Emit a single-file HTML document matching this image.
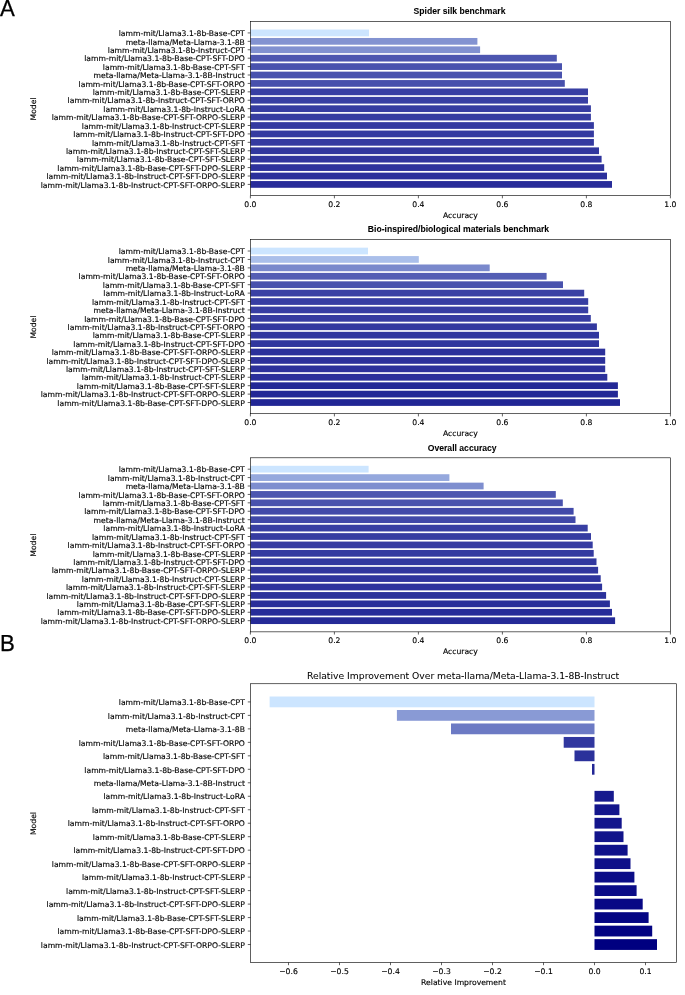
<!DOCTYPE html>
<html lang="en"><head><meta charset="utf-8"><title>Benchmark figure</title>
<style>
html,body{margin:0;padding:0;background:#fff;}
svg{display:block;font-family:"DejaVu Sans","Liberation Sans",sans-serif;font-size:7.66px;fill:#000;}
text{stroke:#000;stroke-width:0.14px;}
.ttl{stroke-width:0.06px;}
.ttl{font-family:"Liberation Sans",Arial,Helvetica,sans-serif;font-weight:bold;font-size:8.62px;}
.ttlB{font-size:9.23px;stroke-width:0.05px;}
.pl{font-family:"Liberation Sans",Arial,Helvetica,sans-serif;font-size:23.2px;stroke:#000;stroke-width:0.3px;text-rendering:geometricPrecision;}
.bars rect{shape-rendering:auto;}
</style></head><body>
<svg width="685" height="995" viewBox="0 0 685 995">
<rect width="685" height="995" fill="#fff"/>
<g class="bars">
<rect x="250.4" y="29.56" width="118.60" height="6.73" fill="#cce5ff"/>
<rect x="250.4" y="37.98" width="227.00" height="6.73" fill="#8393d1"/>
<rect x="250.4" y="46.39" width="229.70" height="6.73" fill="#8191d0"/>
<rect x="250.4" y="54.81" width="306.40" height="6.73" fill="#4d56b0"/>
<rect x="250.4" y="63.23" width="311.60" height="6.73" fill="#4952ae"/>
<rect x="250.4" y="71.64" width="311.60" height="6.73" fill="#4952ae"/>
<rect x="250.4" y="80.06" width="314.40" height="6.73" fill="#4750ac"/>
<rect x="250.4" y="88.48" width="337.60" height="6.73" fill="#383fa3"/>
<rect x="250.4" y="96.89" width="337.60" height="6.73" fill="#383fa3"/>
<rect x="250.4" y="105.31" width="340.50" height="6.73" fill="#363ca1"/>
<rect x="250.4" y="113.72" width="340.50" height="6.73" fill="#363ca1"/>
<rect x="250.4" y="122.14" width="343.50" height="6.73" fill="#343aa0"/>
<rect x="250.4" y="130.56" width="343.50" height="6.73" fill="#343aa0"/>
<rect x="250.4" y="138.97" width="343.50" height="6.73" fill="#343aa0"/>
<rect x="250.4" y="147.39" width="348.60" height="6.73" fill="#30369e"/>
<rect x="250.4" y="155.81" width="351.20" height="6.73" fill="#2f349d"/>
<rect x="250.4" y="164.22" width="353.80" height="6.73" fill="#2d329c"/>
<rect x="250.4" y="172.64" width="356.60" height="6.73" fill="#2b309b"/>
<rect x="250.4" y="181.06" width="361.60" height="6.73" fill="#282c99"/>
</g>
<path d="M247.70 32.93H250.4M247.70 41.34H250.4M247.70 49.76H250.4M247.70 58.18H250.4M247.70 66.59H250.4M247.70 75.01H250.4M247.70 83.43H250.4M247.70 91.84H250.4M247.70 100.26H250.4M247.70 108.67H250.4M247.70 117.09H250.4M247.70 125.51H250.4M247.70 133.92H250.4M247.70 142.34H250.4M247.70 150.76H250.4M247.70 159.17H250.4M247.70 167.59H250.4M247.70 176.01H250.4M247.70 184.42H250.4M250.40 195.60v2.7M334.40 195.60v2.7M418.40 195.60v2.7M502.40 195.60v2.7M586.40 195.60v2.7M670.40 195.60v2.7" stroke="#000" stroke-width="0.62" fill="none"/>
<rect x="250.4" y="21.55" width="420.0" height="174.05" fill="none" stroke="#000" stroke-width="0.62"/>
<g class="ylab" text-anchor="end">
<text x="244.80" y="36.13">lamm-mit/Llama3.1-8b-Base-CPT</text>
<text x="244.80" y="44.54">meta-llama/Meta-Llama-3.1-8B</text>
<text x="244.80" y="52.96">lamm-mit/Llama3.1-8b-Instruct-CPT</text>
<text x="244.80" y="61.38">lamm-mit/Llama3.1-8b-Base-CPT-SFT-DPO</text>
<text x="244.80" y="69.79">lamm-mit/Llama3.1-8b-Base-CPT-SFT</text>
<text x="244.80" y="78.21">meta-llama/Meta-Llama-3.1-8B-Instruct</text>
<text x="244.80" y="86.63">lamm-mit/Llama3.1-8b-Base-CPT-SFT-ORPO</text>
<text x="244.80" y="95.04">lamm-mit/Llama3.1-8b-Base-CPT-SLERP</text>
<text x="244.80" y="103.46">lamm-mit/Llama3.1-8b-Instruct-CPT-SFT-ORPO</text>
<text x="244.80" y="111.88">lamm-mit/Llama3.1-8b-Instruct-LoRA</text>
<text x="244.80" y="120.29">lamm-mit/Llama3.1-8b-Base-CPT-SFT-ORPO-SLERP</text>
<text x="244.80" y="128.71">lamm-mit/Llama3.1-8b-Instruct-CPT-SLERP</text>
<text x="244.80" y="137.12">lamm-mit/Llama3.1-8b-Instruct-CPT-SFT-DPO</text>
<text x="244.80" y="145.54">lamm-mit/Llama3.1-8b-Instruct-CPT-SFT</text>
<text x="244.80" y="153.96">lamm-mit/Llama3.1-8b-Instruct-CPT-SFT-SLERP</text>
<text x="244.80" y="162.37">lamm-mit/Llama3.1-8b-Base-CPT-SFT-SLERP</text>
<text x="244.80" y="170.79">lamm-mit/Llama3.1-8b-Base-CPT-SFT-DPO-SLERP</text>
<text x="244.80" y="179.21">lamm-mit/Llama3.1-8b-Instruct-CPT-SFT-DPO-SLERP</text>
<text x="244.80" y="187.62">lamm-mit/Llama3.1-8b-Instruct-CPT-SFT-ORPO-SLERP</text>
</g>
<g class="xlab" text-anchor="middle">
<text x="250.40" y="207.20">0.0</text>
<text x="334.40" y="207.20">0.2</text>
<text x="418.40" y="207.20">0.4</text>
<text x="502.40" y="207.20">0.6</text>
<text x="586.40" y="207.20">0.8</text>
<text x="670.40" y="207.20">1.0</text>
<text x="460.40" y="217.70">Accuracy</text>
</g>
<text class="ylbl" transform="translate(35.9 108.98) rotate(-90)" text-anchor="middle">Model</text>
<text class="ttl" x="459.50" y="13.85" text-anchor="middle">Spider silk benchmark</text>
<g class="bars">
<rect x="250.4" y="247.66" width="117.60" height="6.73" fill="#cce5ff"/>
<rect x="250.4" y="256.08" width="168.40" height="6.73" fill="#aabfea"/>
<rect x="250.4" y="264.49" width="239.30" height="6.73" fill="#7a89cc"/>
<rect x="250.4" y="272.91" width="296.20" height="6.73" fill="#545eb4"/>
<rect x="250.4" y="281.33" width="312.60" height="6.73" fill="#4851ad"/>
<rect x="250.4" y="289.74" width="333.80" height="6.73" fill="#3a41a4"/>
<rect x="250.4" y="298.16" width="337.80" height="6.73" fill="#373ea3"/>
<rect x="250.4" y="306.58" width="337.80" height="6.73" fill="#373ea3"/>
<rect x="250.4" y="314.99" width="340.40" height="6.73" fill="#363ca1"/>
<rect x="250.4" y="323.41" width="346.50" height="6.73" fill="#32389f"/>
<rect x="250.4" y="331.82" width="348.60" height="6.73" fill="#30369e"/>
<rect x="250.4" y="340.24" width="348.60" height="6.73" fill="#30369e"/>
<rect x="250.4" y="348.66" width="354.80" height="6.73" fill="#2c319b"/>
<rect x="250.4" y="357.07" width="354.80" height="6.73" fill="#2c319b"/>
<rect x="250.4" y="365.49" width="354.80" height="6.73" fill="#2c319b"/>
<rect x="250.4" y="373.91" width="356.90" height="6.73" fill="#2b309b"/>
<rect x="250.4" y="382.32" width="367.50" height="6.73" fill="#232896"/>
<rect x="250.4" y="390.74" width="367.50" height="6.73" fill="#232896"/>
<rect x="250.4" y="399.16" width="369.60" height="6.73" fill="#222695"/>
</g>
<path d="M247.70 251.03H250.4M247.70 259.44H250.4M247.70 267.86H250.4M247.70 276.28H250.4M247.70 284.69H250.4M247.70 293.11H250.4M247.70 301.53H250.4M247.70 309.94H250.4M247.70 318.36H250.4M247.70 326.78H250.4M247.70 335.19H250.4M247.70 343.61H250.4M247.70 352.02H250.4M247.70 360.44H250.4M247.70 368.86H250.4M247.70 377.27H250.4M247.70 385.69H250.4M247.70 394.11H250.4M247.70 402.52H250.4M250.40 413.70v2.7M334.40 413.70v2.7M418.40 413.70v2.7M502.40 413.70v2.7M586.40 413.70v2.7M670.40 413.70v2.7" stroke="#000" stroke-width="0.62" fill="none"/>
<rect x="250.4" y="239.65" width="420.0" height="174.05" fill="none" stroke="#000" stroke-width="0.62"/>
<g class="ylab" text-anchor="end">
<text x="244.80" y="254.23">lamm-mit/Llama3.1-8b-Base-CPT</text>
<text x="244.80" y="262.64">lamm-mit/Llama3.1-8b-Instruct-CPT</text>
<text x="244.80" y="271.06">meta-llama/Meta-Llama-3.1-8B</text>
<text x="244.80" y="279.48">lamm-mit/Llama3.1-8b-Base-CPT-SFT-ORPO</text>
<text x="244.80" y="287.89">lamm-mit/Llama3.1-8b-Base-CPT-SFT</text>
<text x="244.80" y="296.31">lamm-mit/Llama3.1-8b-Instruct-LoRA</text>
<text x="244.80" y="304.73">lamm-mit/Llama3.1-8b-Instruct-CPT-SFT</text>
<text x="244.80" y="313.14">meta-llama/Meta-Llama-3.1-8B-Instruct</text>
<text x="244.80" y="321.56">lamm-mit/Llama3.1-8b-Base-CPT-SFT-DPO</text>
<text x="244.80" y="329.98">lamm-mit/Llama3.1-8b-Instruct-CPT-SFT-ORPO</text>
<text x="244.80" y="338.39">lamm-mit/Llama3.1-8b-Base-CPT-SLERP</text>
<text x="244.80" y="346.81">lamm-mit/Llama3.1-8b-Instruct-CPT-SFT-DPO</text>
<text x="244.80" y="355.22">lamm-mit/Llama3.1-8b-Base-CPT-SFT-ORPO-SLERP</text>
<text x="244.80" y="363.64">lamm-mit/Llama3.1-8b-Instruct-CPT-SFT-DPO-SLERP</text>
<text x="244.80" y="372.06">lamm-mit/Llama3.1-8b-Instruct-CPT-SFT-SLERP</text>
<text x="244.80" y="380.47">lamm-mit/Llama3.1-8b-Instruct-CPT-SLERP</text>
<text x="244.80" y="388.89">lamm-mit/Llama3.1-8b-Base-CPT-SFT-SLERP</text>
<text x="244.80" y="397.31">lamm-mit/Llama3.1-8b-Instruct-CPT-SFT-ORPO-SLERP</text>
<text x="244.80" y="405.72">lamm-mit/Llama3.1-8b-Base-CPT-SFT-DPO-SLERP</text>
</g>
<g class="xlab" text-anchor="middle">
<text x="250.40" y="425.30">0.0</text>
<text x="334.40" y="425.30">0.2</text>
<text x="418.40" y="425.30">0.4</text>
<text x="502.40" y="425.30">0.6</text>
<text x="586.40" y="425.30">0.8</text>
<text x="670.40" y="425.30">1.0</text>
<text x="460.40" y="435.80">Accuracy</text>
</g>
<text class="ylbl" transform="translate(35.9 327.07) rotate(-90)" text-anchor="middle">Model</text>
<text class="ttl" x="458.50" y="231.95" text-anchor="middle">Bio-inspired/biological materials benchmark</text>
<g class="bars">
<rect x="250.4" y="465.81" width="118.20" height="6.73" fill="#cce5ff"/>
<rect x="250.4" y="474.23" width="199.00" height="6.73" fill="#95a8dd"/>
<rect x="250.4" y="482.64" width="233.20" height="6.73" fill="#7e8ecf"/>
<rect x="250.4" y="491.06" width="305.40" height="6.73" fill="#4d57b0"/>
<rect x="250.4" y="499.48" width="312.40" height="6.73" fill="#4952ad"/>
<rect x="250.4" y="507.89" width="323.20" height="6.73" fill="#4149a9"/>
<rect x="250.4" y="516.31" width="325.10" height="6.73" fill="#4048a8"/>
<rect x="250.4" y="524.73" width="337.30" height="6.73" fill="#383fa3"/>
<rect x="250.4" y="533.14" width="340.60" height="6.73" fill="#363ca1"/>
<rect x="250.4" y="541.56" width="342.30" height="6.73" fill="#353ba1"/>
<rect x="250.4" y="549.97" width="343.30" height="6.73" fill="#343aa0"/>
<rect x="250.4" y="558.39" width="346.10" height="6.73" fill="#32389f"/>
<rect x="250.4" y="566.81" width="347.70" height="6.73" fill="#31379e"/>
<rect x="250.4" y="575.22" width="350.30" height="6.73" fill="#2f359d"/>
<rect x="250.4" y="583.64" width="351.70" height="6.73" fill="#2e349d"/>
<rect x="250.4" y="592.06" width="355.70" height="6.73" fill="#2b319b"/>
<rect x="250.4" y="600.47" width="359.50" height="6.73" fill="#292e99"/>
<rect x="250.4" y="608.89" width="361.60" height="6.73" fill="#272c99"/>
<rect x="250.4" y="617.31" width="364.70" height="6.73" fill="#252a97"/>
</g>
<path d="M247.70 469.18H250.4M247.70 477.59H250.4M247.70 486.01H250.4M247.70 494.43H250.4M247.70 502.84H250.4M247.70 511.26H250.4M247.70 519.68H250.4M247.70 528.09H250.4M247.70 536.51H250.4M247.70 544.93H250.4M247.70 553.34H250.4M247.70 561.76H250.4M247.70 570.17H250.4M247.70 578.59H250.4M247.70 587.01H250.4M247.70 595.42H250.4M247.70 603.84H250.4M247.70 612.26H250.4M247.70 620.67H250.4M250.40 631.85v2.7M334.40 631.85v2.7M418.40 631.85v2.7M502.40 631.85v2.7M586.40 631.85v2.7M670.40 631.85v2.7" stroke="#000" stroke-width="0.62" fill="none"/>
<rect x="250.4" y="457.8" width="420.0" height="174.05" fill="none" stroke="#000" stroke-width="0.62"/>
<g class="ylab" text-anchor="end">
<text x="244.80" y="472.38">lamm-mit/Llama3.1-8b-Base-CPT</text>
<text x="244.80" y="480.79">lamm-mit/Llama3.1-8b-Instruct-CPT</text>
<text x="244.80" y="489.21">meta-llama/Meta-Llama-3.1-8B</text>
<text x="244.80" y="497.63">lamm-mit/Llama3.1-8b-Base-CPT-SFT-ORPO</text>
<text x="244.80" y="506.04">lamm-mit/Llama3.1-8b-Base-CPT-SFT</text>
<text x="244.80" y="514.46">lamm-mit/Llama3.1-8b-Base-CPT-SFT-DPO</text>
<text x="244.80" y="522.88">meta-llama/Meta-Llama-3.1-8B-Instruct</text>
<text x="244.80" y="531.29">lamm-mit/Llama3.1-8b-Instruct-LoRA</text>
<text x="244.80" y="539.71">lamm-mit/Llama3.1-8b-Instruct-CPT-SFT</text>
<text x="244.80" y="548.13">lamm-mit/Llama3.1-8b-Instruct-CPT-SFT-ORPO</text>
<text x="244.80" y="556.54">lamm-mit/Llama3.1-8b-Base-CPT-SLERP</text>
<text x="244.80" y="564.96">lamm-mit/Llama3.1-8b-Instruct-CPT-SFT-DPO</text>
<text x="244.80" y="573.37">lamm-mit/Llama3.1-8b-Base-CPT-SFT-ORPO-SLERP</text>
<text x="244.80" y="581.79">lamm-mit/Llama3.1-8b-Instruct-CPT-SLERP</text>
<text x="244.80" y="590.21">lamm-mit/Llama3.1-8b-Instruct-CPT-SFT-SLERP</text>
<text x="244.80" y="598.62">lamm-mit/Llama3.1-8b-Instruct-CPT-SFT-DPO-SLERP</text>
<text x="244.80" y="607.04">lamm-mit/Llama3.1-8b-Base-CPT-SFT-SLERP</text>
<text x="244.80" y="615.46">lamm-mit/Llama3.1-8b-Base-CPT-SFT-DPO-SLERP</text>
<text x="244.80" y="623.87">lamm-mit/Llama3.1-8b-Instruct-CPT-SFT-ORPO-SLERP</text>
</g>
<g class="xlab" text-anchor="middle">
<text x="250.40" y="643.45">0.0</text>
<text x="334.40" y="643.45">0.2</text>
<text x="418.40" y="643.45">0.4</text>
<text x="502.40" y="643.45">0.6</text>
<text x="586.40" y="643.45">0.8</text>
<text x="670.40" y="643.45">1.0</text>
<text x="460.40" y="653.95">Accuracy</text>
</g>
<text class="ylbl" transform="translate(35.9 545.23) rotate(-90)" text-anchor="middle">Model</text>
<text class="ttl" x="462.20" y="450.80" text-anchor="middle">Overall accuracy</text>
<g class="bars">
<rect x="269.60" y="696.52" width="324.90" height="10.78" fill="#cce5ff"/>
<rect x="396.90" y="710.00" width="197.60" height="10.78" fill="#899ad5"/>
<rect x="451.00" y="723.48" width="143.50" height="10.78" fill="#6c7ac4"/>
<rect x="563.70" y="736.96" width="30.80" height="10.78" fill="#31379f"/>
<rect x="574.50" y="750.44" width="20.00" height="10.78" fill="#2b319b"/>
<rect x="592.00" y="763.92" width="2.50" height="10.78" fill="#222695"/>
<rect x="594.50" y="790.87" width="19.30" height="10.78" fill="#171a8e"/>
<rect x="594.50" y="804.35" width="24.90" height="10.78" fill="#14168c"/>
<rect x="594.50" y="817.83" width="27.20" height="10.78" fill="#13158c"/>
<rect x="594.50" y="831.31" width="29.00" height="10.78" fill="#12148b"/>
<rect x="594.50" y="844.79" width="33.10" height="10.78" fill="#0f118a"/>
<rect x="594.50" y="858.27" width="36.00" height="10.78" fill="#0e1089"/>
<rect x="594.50" y="871.75" width="39.90" height="10.78" fill="#0c0d87"/>
<rect x="594.50" y="885.23" width="42.10" height="10.78" fill="#0b0c87"/>
<rect x="594.50" y="898.71" width="48.20" height="10.78" fill="#080885"/>
<rect x="594.50" y="912.19" width="54.10" height="10.78" fill="#040583"/>
<rect x="594.50" y="925.67" width="57.70" height="10.78" fill="#030382"/>
<rect x="594.50" y="939.15" width="62.50" height="10.78" fill="#000080"/>
</g>
<path d="M247.80 701.91H250.5M247.80 715.39H250.5M247.80 728.87H250.5M247.80 742.35H250.5M247.80 755.83H250.5M247.80 769.31H250.5M247.80 782.79H250.5M247.80 796.27H250.5M247.80 809.75H250.5M247.80 823.23H250.5M247.80 836.70H250.5M247.80 850.18H250.5M247.80 863.66H250.5M247.80 877.14H250.5M247.80 890.62H250.5M247.80 904.10H250.5M247.80 917.58H250.5M247.80 931.06H250.5M247.80 944.54H250.5M288.50 962.50v2.7M339.50 962.50v2.7M390.50 962.50v2.7M441.50 962.50v2.7M492.50 962.50v2.7M543.50 962.50v2.7M594.50 962.50v2.7M645.50 962.50v2.7" stroke="#000" stroke-width="0.62" fill="none"/>
<rect x="250.5" y="683.75" width="426.0" height="278.75" fill="none" stroke="#000" stroke-width="0.62"/>
<g class="ylab" text-anchor="end">
<text x="244.90" y="705.11">lamm-mit/Llama3.1-8b-Base-CPT</text>
<text x="244.90" y="718.59">lamm-mit/Llama3.1-8b-Instruct-CPT</text>
<text x="244.90" y="732.07">meta-llama/Meta-Llama-3.1-8B</text>
<text x="244.90" y="745.55">lamm-mit/Llama3.1-8b-Base-CPT-SFT-ORPO</text>
<text x="244.90" y="759.03">lamm-mit/Llama3.1-8b-Base-CPT-SFT</text>
<text x="244.90" y="772.51">lamm-mit/Llama3.1-8b-Base-CPT-SFT-DPO</text>
<text x="244.90" y="785.99">meta-llama/Meta-Llama-3.1-8B-Instruct</text>
<text x="244.90" y="799.47">lamm-mit/Llama3.1-8b-Instruct-LoRA</text>
<text x="244.90" y="812.95">lamm-mit/Llama3.1-8b-Instruct-CPT-SFT</text>
<text x="244.90" y="826.43">lamm-mit/Llama3.1-8b-Instruct-CPT-SFT-ORPO</text>
<text x="244.90" y="839.90">lamm-mit/Llama3.1-8b-Base-CPT-SLERP</text>
<text x="244.90" y="853.38">lamm-mit/Llama3.1-8b-Instruct-CPT-SFT-DPO</text>
<text x="244.90" y="866.86">lamm-mit/Llama3.1-8b-Base-CPT-SFT-ORPO-SLERP</text>
<text x="244.90" y="880.34">lamm-mit/Llama3.1-8b-Instruct-CPT-SLERP</text>
<text x="244.90" y="893.82">lamm-mit/Llama3.1-8b-Instruct-CPT-SFT-SLERP</text>
<text x="244.90" y="907.30">lamm-mit/Llama3.1-8b-Instruct-CPT-SFT-DPO-SLERP</text>
<text x="244.90" y="920.78">lamm-mit/Llama3.1-8b-Base-CPT-SFT-SLERP</text>
<text x="244.90" y="934.26">lamm-mit/Llama3.1-8b-Base-CPT-SFT-DPO-SLERP</text>
<text x="244.90" y="947.74">lamm-mit/Llama3.1-8b-Instruct-CPT-SFT-ORPO-SLERP</text>
</g>
<g class="xlab" text-anchor="middle">
<text x="288.50" y="974.00">−0.6</text>
<text x="339.50" y="974.00">−0.5</text>
<text x="390.50" y="974.00">−0.4</text>
<text x="441.50" y="974.00">−0.3</text>
<text x="492.50" y="974.00">−0.2</text>
<text x="543.50" y="974.00">−0.1</text>
<text x="594.50" y="974.00">0.0</text>
<text x="645.50" y="974.00">0.1</text>
<text x="463.50" y="984.90">Relative Improvement</text>
</g>
<text class="ylbl" transform="translate(35.9 823.52) rotate(-90)" text-anchor="middle">Model</text>
<text class="ttlB" x="463.10" y="679.00" text-anchor="middle">Relative Improvement Over meta-llama/Meta-Llama-3.1-8B-Instruct</text>
<text class="pl" transform="translate(0.05 15.55) scale(0.955 1)">A</text>
<text class="pl" transform="translate(0 651.4) scale(0.955 1)">B</text>
</svg>
</body></html>
